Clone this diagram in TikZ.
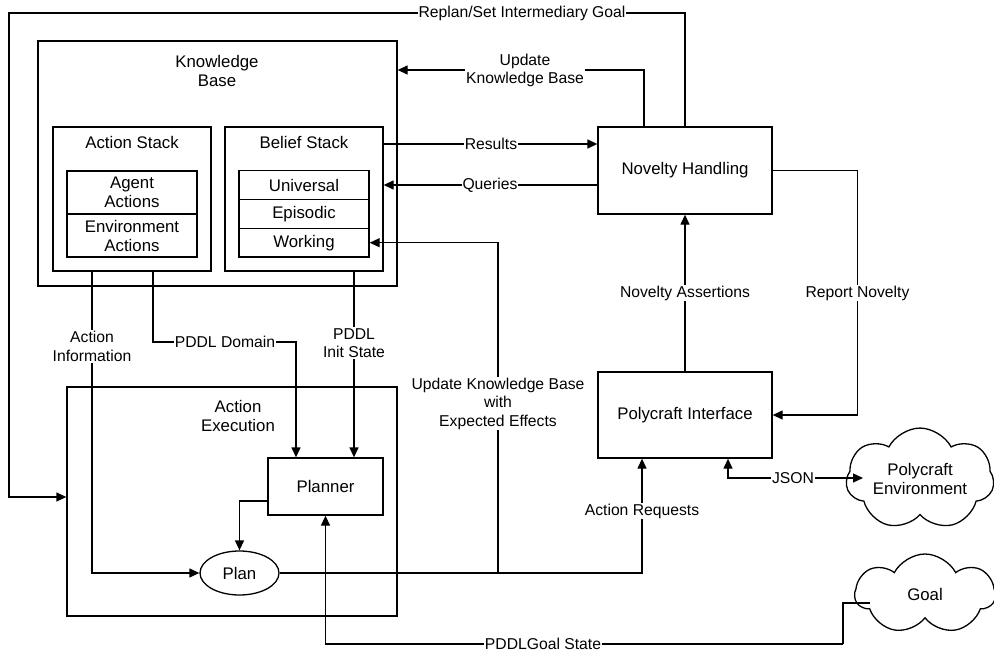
\documentclass[tikz,border=0pt]{standalone}
\usepackage{fontspec}
\setmainfont{Liberation Sans}
\usetikzlibrary{arrows.meta,shapes.geometric,shapes.symbols}
\tikzset{
  box/.style={draw,line width=1.3pt,rectangle,inner sep=0pt,fill=white},
  nlabel/.style={font=\fontsize{16.8}{19}\selectfont,align=center,inner sep=0pt},
  elabel/.style={font=\fontsize{15.7}{18.5}\selectfont,align=center,fill=white,inner sep=1pt},
  conn/.style={line width=1.3pt},
  arr/.style={line width=1.3pt,-{Triangle[length=10pt,width=9pt]}},
  darr/.style={line width=1.3pt,{Triangle[length=10pt,width=9pt]}-{Triangle[length=10pt,width=9pt]}},
  cloudy/.style={draw,line width=1.3pt,cloud,cloud puffs=7,cloud puff arc=125,aspect=1.8},
}
\begin{document}
\begin{tikzpicture}[x=1pt,y=-1pt]
\useasboundingbox (0,0) rectangle (994,653);

% Knowledge base
\node[box,minimum width=359pt,minimum height=245pt] (kb) at (217.5,163.5) {};
\node[nlabel] (kbl) at (217,70.5) {Knowledge\\Base};
\node[box,minimum width=158pt,minimum height=144pt] (as) at (132,199) {};
\node[nlabel] (asl) at (132,142) {Action Stack};
\node[box,nlabel,minimum width=130pt,minimum height=43pt] (agent) at (132,192.5) {Agent\\Actions};
\node[box,nlabel,minimum width=130pt,minimum height=43pt] (env) at (132,235.5) {Environment\\Actions};
\node[box,minimum width=158pt,minimum height=144pt] (bs) at (304,199) {};
\node[nlabel] (bsl) at (304,142) {Belief Stack};
\node[box,nlabel,minimum width=130pt,minimum height=28.8pt] (univ) at (304,185) {Universal};
\node[box,nlabel,minimum width=130pt,minimum height=28.8pt] (epis) at (304,213.9) {Episodic};
\node[box,nlabel,minimum width=130pt,minimum height=28.8pt] (work) at (304,242.7) {Working};

% Novelty handling / Polycraft interface
\node[box,nlabel,minimum width=174pt,minimum height=87pt] (nh) at (685,170.5) {Novelty Handling};
\node[box,nlabel,minimum width=174pt,minimum height=86pt] (pi) at (685,415) {Polycraft Interface};

% Action execution
\node[box,minimum width=330pt,minimum height=229pt] (ae) at (232,501.5) {};
\node[nlabel] (ael) at (238,416) {Action\\Execution};
\node[box,nlabel,minimum width=115pt,minimum height=57pt] (planner) at (325.5,486.5) {Planner};
\node[draw,line width=1.3pt,ellipse,nlabel,minimum width=79pt,minimum height=44pt,fill=white] (plan) at (239.5,573) {Plan};

% Clouds
\node[cloudy,minimum width=148pt,minimum height=82pt,nlabel] (penv) at (920,479) {Polycraft\\Environment};
\node[cloudy,minimum width=140pt,minimum height=80pt,nlabel] (goal) at (925,594) {Goal};

% helper coordinates
\coordinate (tl) at (9,13);
\coordinate (j1) at (498,573);
\coordinate (penvin) at (863,478);
\coordinate (goalin) at (870,603);

% Replan
\draw[arr] (nh.north) |- (tl) |- (ae.west |- 0,497);
\node[elabel] (lreplan) at (522,13) {Replan/Set Intermediary Goal};

% Update knowledge base
\draw[arr] ([xshift=-41pt]nh.north) |- (kb.east |- 0,70);
\node[elabel] (lupd) at (525,70.5) {Update\\Knowledge Base};

% Results / Queries
\draw[arr] (bs.east |- 0,144) -- (nh.west |- 0,144);
\node[elabel] (lres) at (491,144) {Results};
\draw[arr] (nh.west |- 0,185) -- (bs.east |- 0,185);
\node[elabel] (lq) at (490,185) {Queries};

% Report novelty
\draw[arr] (nh.east) -| (857.5,293) |- (pi.east);
\node[elabel] (lrep) at (857.5,293) {Report Novelty};

% Novelty assertions
\draw[arr] (pi.north) -- (nh.south);
\node[elabel] (lna) at (685,293) {Novelty Assertions};

% Action information
\draw[arr] ([xshift=-40pt]as.south) |- (plan.west);
\node[elabel] (lai) at (92,346.5) {Action\\Information};

% PDDL domain
\draw[arr] ([xshift=21pt]as.south) |- ([xshift=-29.5pt]planner.north |- 0,342) -- ([xshift=-29.5pt]planner.north);
\node[elabel] (lpd) at (225,342) {PDDL Domain};

% PDDL init state
\draw[arr] ([xshift=50pt]bs.south) -- ([xshift=50pt]bs.south |- planner.north);
\node[elabel] (lpi) at (354,343) {PDDL\\Init State};

% Planner -> Plan
\draw[arr] ([yshift=-14.5pt]planner.west) -| (plan.north);

% Plan -> Action requests
\draw[arr] (plan.east) -| ([xshift=-43pt]pi.south);
\node[elabel] (lar) at (642,511) {Action Requests};

% Update KB with expected effects
\draw[arr] (j1) |- (work.east);
\node[elabel] (luke) at (498,403.5) {Update Knowledge Base\\with\\Expected Effects};

% JSON
\draw[darr] ([xshift=43pt]pi.south) |- (penvin);
\node[elabel] (ljson) at (793,478) {JSON};

% Goal
\draw[conn] (goalin) -| (843,644);
\draw[arr] (843,644) -| (planner.south);
\node[elabel] (lgoal) at (543,644) {PDDLGoal State};
\end{tikzpicture}
\end{document}
